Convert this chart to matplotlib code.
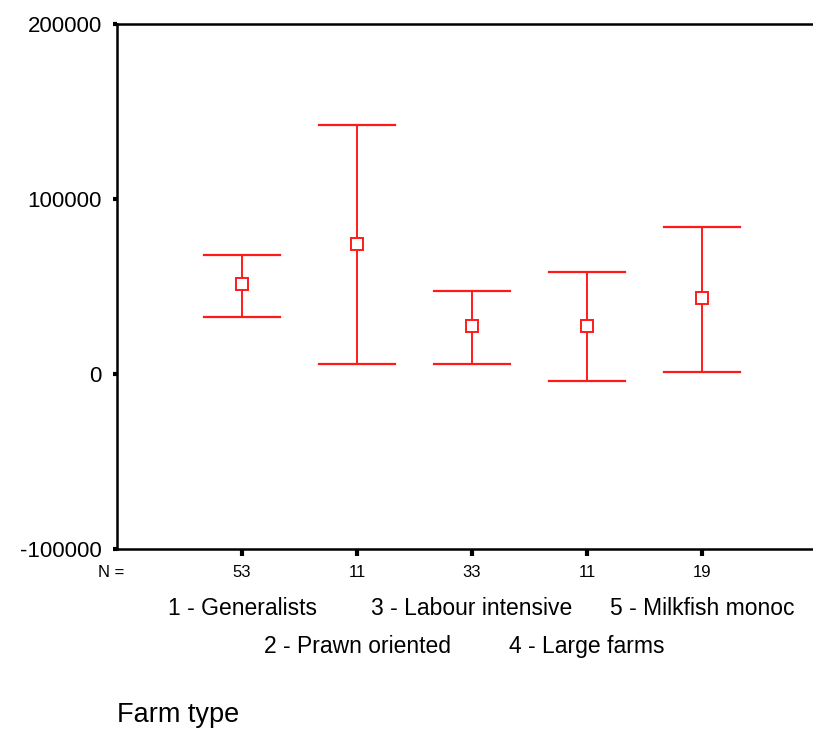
import matplotlib
matplotlib.use("Agg")
import matplotlib.pyplot as plt
import matplotlib.transforms as mtransforms

plt.rcParams['font.family'] = ['Liberation Sans', 'DejaVu Sans']

categories = ["1 - Generalists", "2 - Prawn oriented", "3 - Labour intensive",
              "4 - Large farms", "5 - Milkfish monoc"]
counts = [53, 11, 33, 11, 19]
means = [51500, 74400, 27500, 27500, 43500]
upper = [68100, 142500, 47500, 58400, 84100]
lower = [32600, 5700, 5700, -4000, 1100]
yticks = [-100000, 0, 100000, 200000]

W, H = 813, 731
fig = plt.figure(figsize=(W / 100, H / 100), dpi=100)
ax = fig.add_axes([117 / W, 1 - 549 / H, 1 - 117 / W + 0.01, (549 - 24) / H])

red = "#ff1a1a"
xs = list(range(1, len(categories) + 1))
for x, m, lo, hi in zip(xs, means, lower, upper):
    ax.plot([x, x], [lo, hi], color=red, lw=1.4, zorder=2)
    ax.plot([x - 0.33, x + 0.33], [hi, hi], color=red, lw=1.6, zorder=2)
    ax.plot([x - 0.33, x + 0.33], [lo, lo], color=red, lw=1.6, zorder=2)
    ax.plot([x], [m], marker='s', ms=9, mfc='white', mec=red, mew=1.4, zorder=3)

spacing = 115.0
x0 = 1 - (242 - 117) / spacing
x1 = x0 + (W - 117) / spacing + 0.01 * W / spacing
ax.set_xlim(x0, x1)
ax.set_ylim(-100000, 200000)

ax.spines['right'].set_visible(False)
for s in ['left', 'top', 'bottom']:
    ax.spines[s].set_linewidth(1.8)

ax.set_yticks(yticks)
ax.set_yticklabels([str(v) for v in yticks], fontsize=16)
ax.tick_params(axis='y', direction='out', length=3, width=3, pad=8)
ax.set_xticks(xs)
ax.set_xticklabels([])
ax.tick_params(axis='x', direction='out', length=5, width=3)

trans = mtransforms.blended_transform_factory(ax.transData, fig.transFigure)
fig.text(98 / W, 1 - 577 / H, "N =", fontsize=12, ha='left', va='baseline')
for x, n in zip(xs, counts):
    ax.text(x, 1 - 577 / H, str(n), transform=trans, fontsize=12,
            ha='center', va='baseline', clip_on=False)
for i, (x, c) in enumerate(zip(xs, categories)):
    yrow = 615 if i % 2 == 0 else 653
    ax.text(x, 1 - yrow / H, c, transform=trans, fontsize=16.5,
            ha='center', va='baseline', clip_on=False)

fig.text(117 / W, 1 - 722 / H, "Farm type", fontsize=19.5, ha='left', va='baseline')

fig.savefig("out.png", dpi=100)
